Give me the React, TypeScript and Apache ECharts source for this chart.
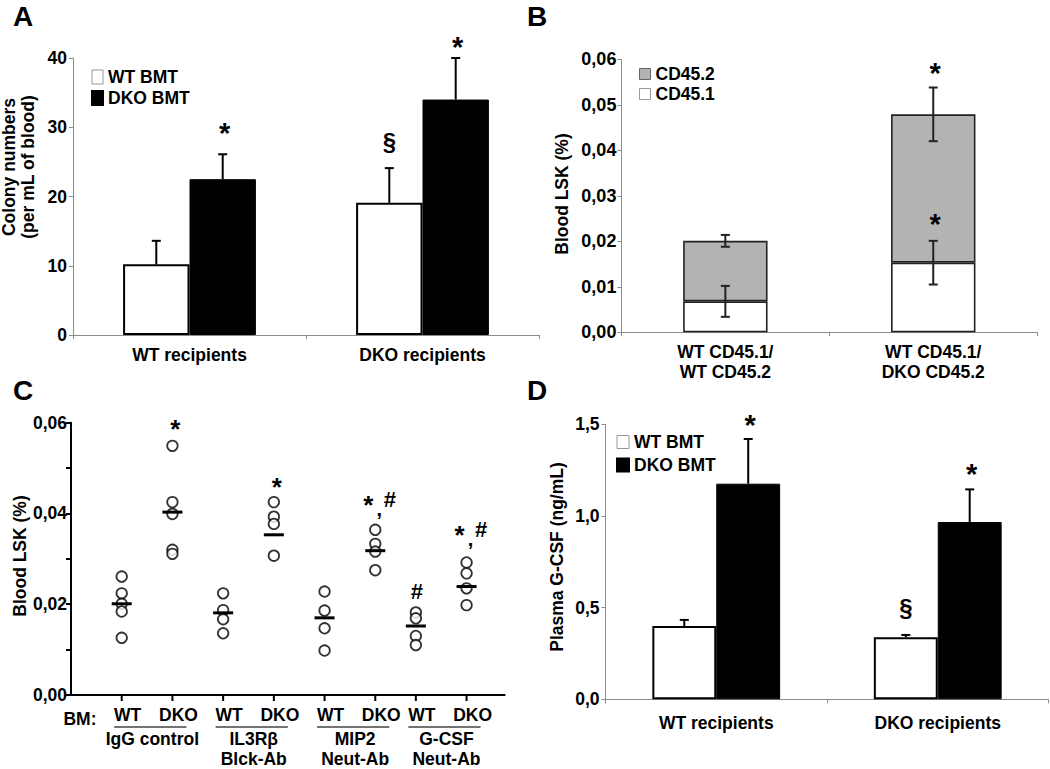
import React, { useEffect, useRef } from 'react';
import * as echarts from 'echarts';

const FONT = "'Liberation Sans', Arial, sans-serif";

// ---------- Panel A ----------
const aCategories = ['WT recipients', 'DKO recipients'];
const aWT = [10.2, 19.1];
const aWTErr = [3.4, 5.0];
const aDKO = [22.5, 34.0];
const aDKOErr = [3.6, 6.0];
const aMarkText = ['§', '*', '*'];
const aMarkCat = [1, 0, 1];
const aMarkBar = [-1, 1, 1];
const aMarkY = [27.9, 29.2, 41.6];

// ---------- Panel B ----------
const bCategories = ['WT CD45.1/\nWT CD45.2', 'WT CD45.1/\nDKO CD45.2'];
const bCD451 = [0.0068, 0.0153];
const bCD451Err = [0.0034, 0.0048];
const bCD452 = [0.0133, 0.0326];
const bTotalErr = [0.0013, 0.0059];
const bMarkText = ['*', '*'];
const bMarkCat = [1, 1];
const bMarkY = [0.0569, 0.0239];

// ---------- Panel C ----------
const cGroupPos = [1, 2, 3, 4, 5, 6, 6.8, 7.8];
const cGenotype = ['WT', 'DKO', 'WT', 'DKO', 'WT', 'DKO', 'WT', 'DKO'];
const cTreatments = ['IgG control', 'IL3Rβ\nBlck-Ab', 'MIP2\nNeut-Ab', 'G-CSF\nNeut-Ab'];
const cValues = [
  [0.0261, 0.0224, 0.0201, 0.0184, 0.0126],
  [0.0549, 0.0425, 0.0399, 0.032, 0.0311],
  [0.0224, 0.0187, 0.0167, 0.0136],
  [0.0425, 0.0393, 0.0377, 0.0307],
  [0.0228, 0.0186, 0.0147, 0.0098],
  [0.0364, 0.0333, 0.0316, 0.0275],
  [0.0182, 0.0169, 0.013, 0.011],
  [0.0292, 0.0268, 0.0235, 0.0198],
];
const cMeans = [0.0201, 0.0403, 0.0181, 0.0353, 0.017, 0.0318, 0.0152, 0.0239];
const cMarkGroup = [1, 3, 5, 6, 7];
const cMarkText = ['*', '*', '*,#', '#', '*,#'];
const cMarkY = [0.0586, 0.0459, 0.043, 0.0228, 0.0364];

// ---------- Panel D ----------
const dCategories = ['WT recipients', 'DKO recipients'];
const dWT = [0.4, 0.338];
const dWTErr = [0.033, 0.013];
const dDKO = [1.176, 0.967];
const dDKOErr = [0.244, 0.178];
const dMarkText = ['*', '§', '*'];
const dMarkCat = [0, 1, 1];
const dMarkBar = [1, -1, 1];
const dMarkY = [1.494, 0.502, 1.227];

const AXIS_GRAY = '#8c8c8c';
const labelStyle = { color: '#000', fontWeight: 'bold' as const, fontSize: 17.5, fontFamily: FONT };

function txt(s: string, x: number, y: number, size: number, extra: any = {}) {
  return {
    type: 'text',
    x,
    y,
    style: {
      text: s,
      fill: '#000',
      font: `bold ${size}px ${FONT}`,
      align: 'center',
      verticalAlign: 'middle',
      textAlign: 'center',
      textVerticalAlign: 'middle',
      ...extra,
    },
  };
}

function markSize(s: string) {
  if (s === '*') return 29;
  if (s === '§') return 24;
  return 21;
}

function errorSeries(grid: number, data: number[][], offsetFrac: number, color: string) {
  return {
    type: 'custom',
    xAxisIndex: grid,
    yAxisIndex: grid,
    silent: true,
    z: 10,
    data,
    renderItem: (params: any, api: any) => {
      const cat = api.value(0);
      const v = api.value(1);
      const e = api.value(2);
      const slot = api.value(3);
      const both = api.value(4);
      const catW = api.size([1, 0])[0];
      const c = api.coord([cat, v]);
      const hi = api.coord([cat, v + e]);
      const lo = both ? api.coord([cat, v - e]) : c;
      const x = c[0] + slot * catW * offsetFrac;
      const half = 4.5;
      const style = { stroke: color, lineWidth: 2 };
      const children: any[] = [
        { type: 'line', shape: { x1: x, y1: lo[1], x2: x, y2: hi[1] }, style },
        { type: 'line', shape: { x1: x - half, y1: hi[1], x2: x + half, y2: hi[1] }, style },
      ];
      if (both) children.push({ type: 'line', shape: { x1: x - half, y1: lo[1], x2: x + half, y2: lo[1] }, style });
      return { type: 'group', children };
    },
  };
}

function markSeries(grid: number, cats: number[], ys: number[], slots: number[], texts: string[], offsetFrac: number) {
  return {
    type: 'custom',
    xAxisIndex: grid,
    yAxisIndex: grid,
    silent: true,
    z: 11,
    data: cats.map((c, i) => [c, ys[i]]),
    renderItem: (params: any, api: any) => {
      const i = params.dataIndex;
      const catW = api.size([1, 0])[0];
      const p = api.coord([api.value(0), api.value(1)]);
      const s = texts[i];
      return txt(s, p[0] + slots[i] * catW * offsetFrac + (s === '*' ? 2 : 0), p[1], markSize(s));
    },
  };
}

function letter(s: string, x: number, y: number) {
  return txt(s, x, y, 28);
}

function yTitle(s: string, x: number, y: number) {
  return {
    type: 'text',
    x,
    y,
    rotation: Math.PI / 2,
    style: {
      text: s,
      fill: '#000',
      font: `bold 17.5px ${FONT}`,
      lineHeight: 19,
      align: 'center',
      verticalAlign: 'middle',
      textAlign: 'center',
      textVerticalAlign: 'middle',
    },
  };
}

const comma = (d: number) => (v: number) => v.toFixed(d).replace('.', ',');

function buildOption() {
  const aOff = 0.1425;
  const dOff = (1 - 0.423) / 4;

  return {
    animation: false,
    backgroundColor: '#fff',
    textStyle: { fontFamily: FONT },
    grid: [
      { left: 73, top: 58, width: 466, height: 277, outerBoundsMode: 'none' },
      { left: 621.4, top: 59.3, width: 415.8, height: 273, outerBoundsMode: 'none' },
      { left: 71, top: 422.7, width: 433.6, height: 272.3, outerBoundsMode: 'none' },
      { left: 605.5, top: 424.3, width: 443, height: 275, outerBoundsMode: 'none' },
    ],
    legend: [
      {
        left: 86, top: 63, orient: 'vertical', itemWidth: 11, itemHeight: 14, itemGap: 3, icon: 'rect',
        selectedMode: false, textStyle: { ...labelStyle },
        data: [{ name: 'WT BMT', itemStyle: { color: '#fff', borderColor: '#999', borderWidth: 1 } }, { name: 'DKO BMT' }],
      },
      {
        left: 634, top: 60, orient: 'vertical', itemWidth: 11, itemHeight: 11, itemGap: 2, icon: 'rect',
        selectedMode: false, textStyle: { ...labelStyle },
        data: [
          { name: 'CD45.2', itemStyle: { color: '#b3b3b3', borderColor: '#666', borderWidth: 1 } },
          { name: 'CD45.1', itemStyle: { color: '#fff', borderColor: '#999', borderWidth: 1 } },
        ],
      },
      {
        left: 611, top: 428, orient: 'vertical', itemWidth: 12, itemHeight: 13, itemGap: 5, icon: 'rect',
        selectedMode: false, textStyle: { ...labelStyle },
        data: [{ name: 'WT BMT', itemStyle: { color: '#fff', borderColor: '#999', borderWidth: 1 } }, { name: 'DKO BMT' }],
      },
    ],
    xAxis: [
      {
        gridIndex: 0, type: 'category', data: aCategories,
        axisLine: { lineStyle: { color: AXIS_GRAY, width: 1 } },
        axisTick: { show: true, length: 4, lineStyle: { color: AXIS_GRAY } },
        axisLabel: { ...labelStyle, margin: 11 },
      },
      {
        gridIndex: 1, type: 'category', data: bCategories,
        axisLine: { lineStyle: { color: AXIS_GRAY, width: 1 } },
        axisTick: { show: true, length: 4, lineStyle: { color: AXIS_GRAY } },
        axisLabel: { ...labelStyle, margin: 10, lineHeight: 20 },
      },
      {
        gridIndex: 2, type: 'value', min: 0, max: 8.55,
        axisLine: { show: true, lineStyle: { color: '#000', width: 2 } },
        axisTick: { show: false }, axisLabel: { show: false }, splitLine: { show: false },
      },
      {
        gridIndex: 3, type: 'category', data: dCategories,
        axisLine: { lineStyle: { color: AXIS_GRAY, width: 1 } },
        axisTick: { show: true, length: 4, lineStyle: { color: AXIS_GRAY } },
        axisLabel: { ...labelStyle, margin: 15 },
      },
    ],
    yAxis: [
      {
        gridIndex: 0, type: 'value', min: 0, max: 40, interval: 10,
        axisLine: { show: true, lineStyle: { color: AXIS_GRAY } },
        axisTick: { show: true, length: 4, lineStyle: { color: AXIS_GRAY } },
        splitLine: { show: false },
        axisLabel: { ...labelStyle, margin: 6 },
      },
      {
        gridIndex: 1, type: 'value', min: 0, max: 0.06, interval: 0.01,
        axisLine: { show: true, lineStyle: { color: AXIS_GRAY } },
        axisTick: { show: true, length: 4, lineStyle: { color: AXIS_GRAY } },
        splitLine: { show: false },
        axisLabel: { ...labelStyle, fontSize: 18, margin: 5, formatter: comma(2) },
      },
      {
        gridIndex: 2, type: 'value', min: 0, max: 0.06, interval: 0.01,
        axisLine: { show: true, lineStyle: { color: '#000', width: 2 } },
        axisTick: { show: true, length: 5, lineStyle: { color: '#000', width: 2 } },
        splitLine: { show: false },
        axisLabel: {
          ...labelStyle, margin: 4,
          formatter: (v: number) => (Math.round(v * 100) % 2 === 0 ? comma(2)(v) : ''),
        },
      },
      {
        gridIndex: 3, type: 'value', min: 0, max: 1.5, interval: 0.5,
        axisLine: { show: true, lineStyle: { color: AXIS_GRAY } },
        axisTick: { show: true, length: 4, lineStyle: { color: AXIS_GRAY } },
        splitLine: { show: false },
        axisLabel: { ...labelStyle, margin: 6, formatter: comma(1) },
      },
    ],
    series: [
      // ----- A -----
      {
        type: 'bar', name: 'WT BMT', xAxisIndex: 0, yAxisIndex: 0, data: aWT,
        barGap: '0%', barCategoryGap: '43%',
        itemStyle: { color: '#fff', borderColor: '#000', borderWidth: 2 },
      },
      {
        type: 'bar', name: 'DKO BMT', xAxisIndex: 0, yAxisIndex: 0, data: aDKO,
        barGap: '0%', barCategoryGap: '43%',
        itemStyle: { color: '#000', borderColor: '#000', borderWidth: 1 },
      },
      errorSeries(0, [
        ...aWT.map((v, i) => [i, v, aWTErr[i], -1, 0]),
        ...aDKO.map((v, i) => [i, v, aDKOErr[i], 1, 0]),
      ], aOff, '#000'),
      markSeries(0, aMarkCat, aMarkY, aMarkBar, aMarkText, aOff),

      // ----- B -----
      {
        type: 'bar', name: 'CD45.1', xAxisIndex: 1, yAxisIndex: 1, data: bCD451, stack: 'b', barWidth: '40.6%',
        itemStyle: { color: '#fff', borderColor: '#222', borderWidth: 1.6 },
      },
      {
        type: 'bar', name: 'CD45.2', xAxisIndex: 1, yAxisIndex: 1, data: bCD452, stack: 'b', barWidth: '40.6%',
        itemStyle: { color: '#b3b3b3', borderColor: '#222', borderWidth: 1.6 },
      },
      errorSeries(1, [
        ...bCD451.map((v, i) => [i, v, bCD451Err[i], 0, 1]),
        ...bCD451.map((v, i) => [i, v + bCD452[i], bTotalErr[i], 0, 1]),
      ], 0, '#222'),
      markSeries(1, bMarkCat, bMarkY, [0, 0], bMarkText, 0),

      // ----- C -----
      {
        type: 'scatter', xAxisIndex: 2, yAxisIndex: 2, symbol: 'circle', symbolSize: 10.5, z: 2,
        itemStyle: { color: '#fff', borderColor: '#000', borderWidth: 1.8 },
        data: cValues.flatMap((g, i) => g.map((v) => [cGroupPos[i], v])),
      },
      {
        type: 'custom', xAxisIndex: 2, yAxisIndex: 2, silent: true, z: 5,
        data: cGroupPos.map((p, i) => [p, cMeans[i]]),
        renderItem: (params: any, api: any) => {
          const p = api.coord([api.value(0), api.value(1)]);
          return { type: 'line', shape: { x1: p[0] - 10, y1: p[1], x2: p[0] + 10, y2: p[1] }, style: { stroke: '#000', lineWidth: 3 } };
        },
      },
      {
        type: 'custom', xAxisIndex: 2, yAxisIndex: 2, silent: true, z: 5,
        data: cGroupPos.map((p, i) => [p, 0, i]),
        renderItem: (params: any, api: any) => {
          const i = params.dataIndex;
          const p = api.coord([api.value(0), 0]);
          return {
            type: 'group',
            children: [
              { type: 'line', shape: { x1: p[0], y1: p[1], x2: p[0], y2: p[1] + 6 }, style: { stroke: '#000', lineWidth: 2 } },
              txt(cGenotype[i], p[0] + 6, p[1] + 20, 17.5),
            ],
          };
        },
      },
      {
        type: 'custom', xAxisIndex: 2, yAxisIndex: 2, silent: true, z: 5,
        data: cTreatments.map((t, k) => [cGroupPos[2 * k], 0, cGroupPos[2 * k + 1], k]),
        renderItem: (params: any, api: any) => {
          const k = params.dataIndex;
          const p1 = api.coord([api.value(0), 0]);
          const p2 = api.coord([api.value(2), 0]);
          const x1 = p1[0] - 7.5;
          const x2 = p2[0] + 14;
          const y = p1[1];
          return {
            type: 'group',
            children: [
              { type: 'line', shape: { x1, y1: y + 32, x2, y2: y + 32 }, style: { stroke: '#444', lineWidth: 1.5 } },
              txt(cTreatments[k], (x1 + x2) / 2 + 2, y + 34, 17.5, { verticalAlign: 'top', textVerticalAlign: 'top', lineHeight: 20 }),
            ],
          };
        },
      },
      {
        type: 'custom', xAxisIndex: 2, yAxisIndex: 2, silent: true, z: 6,
        data: cMarkGroup.map((g, i) => [cGroupPos[g], cMarkY[i]]),
        renderItem: (params: any, api: any) => {
          const i = params.dataIndex;
          const p = api.coord([api.value(0), api.value(1)]);
          const s = cMarkText[i];
          if (s === '*,#') {
            return {
              type: 'group',
              children: [
                txt('*', p[0] - 7, p[1] + 5, 26),
                txt(',', p[0] + 4, p[1] + 9, 20),
                txt('#', p[0] + 14.5, p[1], 22),
              ],
            };
          }
          if (s === '*') return txt('*', p[0] + 3, p[1], 26);
          return txt(s, p[0] + 1, p[1], 22);
        },
      },

      // ----- D -----
      {
        type: 'bar', name: 'WT BMT', xAxisIndex: 3, yAxisIndex: 3, data: dWT,
        barGap: '0%', barCategoryGap: '42.3%',
        itemStyle: { color: '#fff', borderColor: '#000', borderWidth: 2 },
      },
      {
        type: 'bar', name: 'DKO BMT', xAxisIndex: 3, yAxisIndex: 3, data: dDKO,
        barGap: '0%', barCategoryGap: '42.3%',
        itemStyle: { color: '#000', borderColor: '#000', borderWidth: 1 },
      },
      errorSeries(3, [
        ...dWT.map((v, i) => [i, v, dWTErr[i], -1, 0]),
        ...dDKO.map((v, i) => [i, v, dDKOErr[i], 1, 0]),
      ], dOff, '#000'),
      markSeries(3, dMarkCat, dMarkY, dMarkBar, dMarkText, dOff),
    ],
    graphic: [
      letter('A', 23, 16),
      letter('B', 537, 16),
      letter('C', 23, 390),
      letter('D', 537, 390),
      yTitle('Colony numbers\n(per mL of blood)', 18.5, 167),
      yTitle('Blood LSK (%)', 562, 194),
      yTitle('Blood LSK (%)', 19.5, 556),
      yTitle('Plasma G-CSF (ng/mL)', 557, 557),
      txt('BM:', 80, 719, 17.5),
    ],
  };
}

export default function App() {
  const ref = useRef<HTMLDivElement>(null);
  useEffect(() => {
    if (!ref.current) return;
    const chart = echarts.init(ref.current, null, { renderer: 'svg' });
    chart.setOption(buildOption() as any);
    return () => chart.dispose();
  }, []);
  return (
    <div
      ref={ref}
      style={{ position: 'absolute', left: 0, top: 0, width: 1050, height: 769, background: '#fff' }}
    />
  );
}
